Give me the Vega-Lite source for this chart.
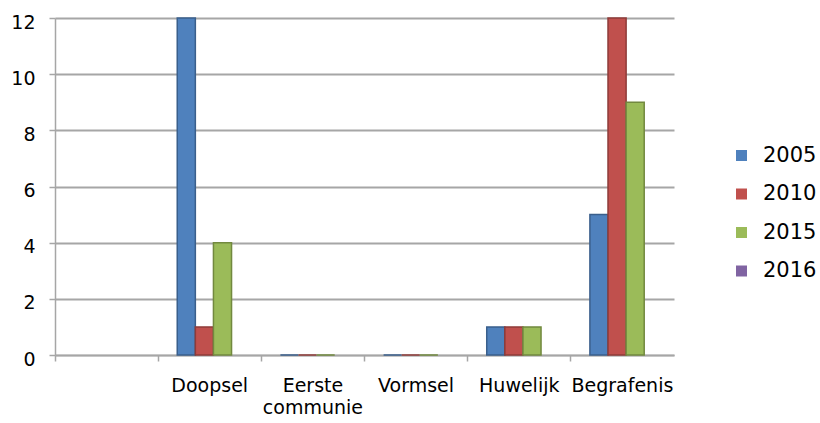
{
  "$schema": "https://vega.github.io/schema/vega-lite/v6.json",
  "autosize": "none",
  "width": 619,
  "height": 337,
  "padding": {"left": 55, "top": 18, "right": 146, "bottom": 68},
  "background": "white",
  "config": {
    "font": "DejaVu Sans",
    "view": {"stroke": null},
    "axis": {"labelFont": "DejaVu Sans", "labelColor": "#000000"},
    "legend": {"labelFont": "DejaVu Sans"}
  },
  "data": {
    "values": [
      {"categorie": "Doopsel", "jaar": "2005", "aantal": 12},
      {"categorie": "Doopsel", "jaar": "2010", "aantal": 1},
      {"categorie": "Doopsel", "jaar": "2015", "aantal": 4},
      {"categorie": "Doopsel", "jaar": "2016", "aantal": null},
      {"categorie": "Eerste communie", "jaar": "2005", "aantal": 0},
      {"categorie": "Eerste communie", "jaar": "2010", "aantal": 0},
      {"categorie": "Eerste communie", "jaar": "2015", "aantal": 0},
      {"categorie": "Eerste communie", "jaar": "2016", "aantal": null},
      {"categorie": "Vormsel", "jaar": "2005", "aantal": 0},
      {"categorie": "Vormsel", "jaar": "2010", "aantal": 0},
      {"categorie": "Vormsel", "jaar": "2015", "aantal": 0},
      {"categorie": "Vormsel", "jaar": "2016", "aantal": null},
      {"categorie": "Huwelijk", "jaar": "2005", "aantal": 1},
      {"categorie": "Huwelijk", "jaar": "2010", "aantal": 1},
      {"categorie": "Huwelijk", "jaar": "2015", "aantal": 1},
      {"categorie": "Huwelijk", "jaar": "2016", "aantal": null},
      {"categorie": "Begrafenis", "jaar": "2005", "aantal": 5},
      {"categorie": "Begrafenis", "jaar": "2010", "aantal": 12},
      {"categorie": "Begrafenis", "jaar": "2015", "aantal": 9},
      {"categorie": "Begrafenis", "jaar": "2016", "aantal": null}
    ]
  },
  "mark": {"type": "bar", "strokeWidth": 1.5},
  "encoding": {
    "x": {
      "field": "categorie",
      "type": "nominal",
      "scale": {
        "domain": [" ", "Doopsel", "Eerste communie", "Vormsel", "Huwelijk", "Begrafenis"],
        "paddingInner": 0,
        "paddingOuter": 0
      },
      "axis": {
        "title": null,
        "labelAngle": 0,
        "labelFontSize": 19,
        "labelExpr": "datum.value == 'Eerste communie' ? ['Eerste', 'communie'] : datum.value",
        "labelLineHeight": 22,
        "bandPosition": 0,
        "ticks": true,
        "tickSize": 6,
        "tickColor": "#a6a6a6",
        "tickWidth": 1.5,
        "labelPadding": 15,
        "domainColor": "#a6a6a6",
        "domainWidth": 1.5,
        "grid": false,
        "labelAlign": "center",
        "labelBaseline": "top"
      }
    },
    "xOffset": {
      "field": "jaar",
      "type": "nominal",
      "scale": {"domain": ["2005", "2010", "2015", "2016"], "paddingInner": 0, "paddingOuter": 0.85, "align": 0.62}
    },
    "y": {
      "field": "aantal",
      "type": "quantitative",
      "scale": {"domain": [0, 12], "nice": false},
      "axis": {
        "title": null,
        "values": [0, 2, 4, 6, 8, 10, 12],
        "labelFontSize": 19,
        "labelPadding": 14,
        "tickSize": 6,
        "tickColor": "#a6a6a6",
        "tickWidth": 1.5,
        "domainColor": "#a6a6a6",
        "domainWidth": 1.5,
        "gridColor": "#a6a6a6",
        "gridWidth": 2,
        "labelOffset": 4
      }
    },
    "color": {
      "field": "jaar",
      "type": "nominal",
      "scale": {
        "domain": ["2005", "2010", "2015", "2016"],
        "range": ["#4F81BD", "#C0504D", "#9BBB59", "#8064A2"]
      },
      "legend": {
        "title": null,
        "orient": "none",
        "legendX": 676,
        "legendY": 127,
        "symbolType": "square",
        "symbolSize": 121,
        "symbolStrokeWidth": 0,
        "labelFontSize": 21,
        "rowPadding": 16.5,
        "labelOffset": 11,
        "padding": 0
      }
    },
    "stroke": {
      "field": "jaar",
      "type": "nominal",
      "scale": {
        "domain": ["2005", "2010", "2015", "2016"],
        "range": ["#3A5F8C", "#8E3B39", "#72893F", "#5E4A78"]
      },
      "legend": null
    }
  }
}
